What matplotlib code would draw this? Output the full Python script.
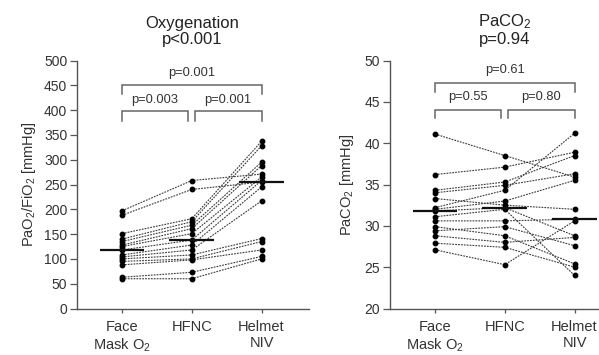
import numpy as np
import matplotlib
matplotlib.use("Agg")
import matplotlib.pyplot as plt
from matplotlib.transforms import blended_transform_factory

plt.rcParams["font.family"] = ["Liberation Sans", "DejaVu Sans"]
plt.rcParams["mathtext.fontset"] = "custom"
plt.rcParams["mathtext.rm"] = "Liberation Sans"
plt.rcParams["mathtext.it"] = "Liberation Sans:italic"
plt.rcParams["mathtext.default"] = "regular"

# Categories
groups = ["Face\nMask O$_2$", "HFNC", "Helmet\nNIV"]

# PaO2/FiO2 per patient (mmHg)
pf_face = [197, 188, 151, 140, 135, 128, 125, 118, 108, 104, 100, 95, 88, 63, 60]
pf_hfnc = [258, 240, 181, 175, 168, 161, 151, 138, 128, 118, 108, 100, 98, 73, 60]
pf_helmet = [271, 255, 337, 328, 295, 288, 265, 258, 245, 217, 141, 135, 118, 105, 100]

# PaCO2 per patient (mmHg)
pc_face = [41.1, 36.2, 34.3, 34.0, 33.3, 32.2, 32.0, 31.8, 31.1, 30.6, 29.9, 29.4, 28.8, 27.9, 27.1]
pc_hfnc = [38.5, 37.1, 35.3, 34.9, 32.5, 34.3, 33.0, 32.2, 32.0, 30.6, 28.8, 29.9, 28.0, 27.4, 25.3]
pc_helmet = [35.9, 38.9, 38.5, 36.3, 32.0, 41.2, 35.5, 28.8, 24.0, 30.8, 25.4, 27.6, 28.6, 25.0, 30.6]

# Titles and pairwise p-values
titles = ["Oxygenation\np<0.001", "PaCO$_2$\np=0.94"]
ylabels = ["PaO$_2$/FiO$_2$ [mmHg]", "PaCO$_2$ [mmHg]"]
p_pf = ["p=0.003", "p=0.001", "p=0.001"]   # face-hfnc, hfnc-helmet, face-helmet
p_pc = ["p=0.55", "p=0.80", "p=0.61"]
yticks_pf = list(range(0, 501, 50))
yticks_pc = list(range(20, 51, 5))

W, H = 599, 355
fig = plt.figure(figsize=(W / 100, H / 100), dpi=100)

ax_w = 232 / W
ax_h = 248 / H
ax1 = fig.add_axes([77 / W, 46.5 / H, ax_w, ax_h])
ax2 = fig.add_axes([390 / W, 46.5 / H, ax_w, ax_h])

spine_col = "#555555"
text_col = "#333333"
bracket_col = "#666666"


def panel(ax, series, ylim, yticks, title, ylabel, pvals, br, lblpad):
    x = np.arange(3)
    data = np.array(series)  # shape (3, n)
    for i in range(data.shape[1]):
        ax.plot(x, data[:, i], linestyle=(0, (1.6, 1.0)), color="#3a3a3a",
                lw=0.8, marker="o", ms=3.2, mfc="black", mec="black", zorder=3)
    for j in range(3):
        m = np.median(data[j])
        ax.plot([j - 0.32, j + 0.32], [m, m], color="#111111", lw=1.6,
                solid_capstyle="butt", zorder=4)

    ax.set_xlim(-0.645, 2.68)
    ax.set_ylim(*ylim)
    ax.set_yticks(yticks)
    ax.set_xticks(x)
    ax.set_xticklabels(groups)
    for s in ["top", "right"]:
        ax.spines[s].set_visible(False)
    for s in ["left", "bottom"]:
        ax.spines[s].set_color(spine_col)
        ax.spines[s].set_linewidth(1.0)
    ax.tick_params(axis="y", length=5, width=0.9, color=spine_col, pad=2,
                   labelsize=10, labelcolor=text_col)
    ax.tick_params(axis="x", length=3, width=0.9, color=spine_col, pad=5,
                   labelsize=10.5, labelcolor=text_col)
    ax.set_ylabel(ylabel, fontsize=10.5, color=text_col, labelpad=lblpad)

    tr = blended_transform_factory(ax.transData, ax.transAxes)
    ax.text(1, 1.068, title, transform=tr, ha="center", va="baseline",
            fontsize=12, color="#222222", linespacing=1.05)

    # significance brackets: (x0, x1, top, leg bottom, text y, label)
    (top_hi, leg_hi, txt_hi), (top_lo, leg_lo, txt_lo) = br
    specs = [(0.0, 0.95, top_lo, leg_lo, txt_lo, pvals[0]),
             (1.04, 2.0, top_lo, leg_lo, txt_lo, pvals[1]),
             (0.0, 2.0, top_hi, leg_hi, txt_hi, pvals[2])]
    for x0, x1, yt, yb, ty, lab in specs:
        ax.plot([x0, x0, x1, x1], [yb, yt, yt, yb], color=bracket_col, lw=1.1,
                clip_on=False, solid_joinstyle="miter")
        ax.text((x0 + x1) / 2, ty, lab, ha="center", va="center",
                fontsize=9.3, color=text_col)


panel(ax1, [pf_face, pf_hfnc, pf_helmet], (0, 500), yticks_pf, titles[0],
      ylabels[0], p_pf, ((451, 433, 474), (399, 379, 421)), 4)
panel(ax2, [pc_face, pc_hfnc, pc_helmet], (20, 50), yticks_pc, titles[1],
      ylabels[1], p_pc, ((47.3, 46.2, 48.8), (44.05, 43.0, 45.6)), 6)

fig.savefig("out.png", dpi=100)
